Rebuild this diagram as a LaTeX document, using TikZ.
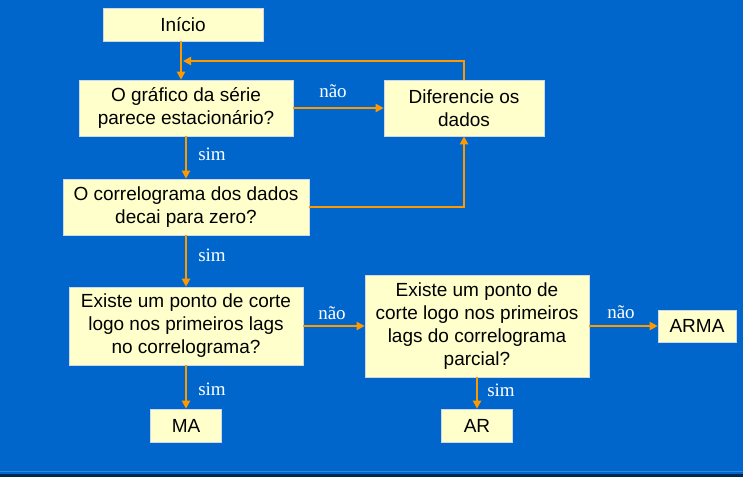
\documentclass[tikz,border=0pt]{standalone}
\usepackage{fontspec}
\setmainfont{Liberation Sans}
\newfontfamily\serifa{Liberation Serif}
\usepackage{xcolor}
\usetikzlibrary{arrows.meta}

\definecolor{fundo}{RGB}{0,102,204}
\definecolor{caixafundo}{RGB}{255,255,204}
\definecolor{laranja}{RGB}{255,153,0}
\definecolor{borda}{RGB}{205,215,230}

\tikzset{
    caixa/.style={draw=borda, line width=0.6pt, fill=caixafundo, inner sep=0pt,
        align=center, font=\fontsize{19}{23}\selectfont},
    seta/.style={laranja, line width=2.2pt, -{Triangle[length=8pt,width=8pt]}},
    rotulo/.style={text=white, inner sep=0pt, font=\serifa\fontsize{19}{23}\selectfont}
}

\begin{document}
\begin{tikzpicture}[x=1pt,y=-1pt]
    % Fundo
    \fill[fundo] (0,0) rectangle (743,477);
    \useasboundingbox (0,0) rectangle (743,477);
    \fill[fundo!80!white] (0,470.5) rectangle (743,471.5);
    \fill[black!60!fundo] (0,474) rectangle (743,477);

    % Caixas
    \node[caixa, minimum width=160, minimum height=33] (inicio) at (183,24.5) {Início};
    \node[caixa, minimum width=214, minimum height=56] (grafico) at (186,108) {O gráfico da série\\parece estacionário?};
    \node[caixa, minimum width=160, minimum height=56] (diferencie) at (464,108) {Diferencie os\\dados};
    \node[caixa, minimum width=246, minimum height=56] (correlograma) at (186,207) {O correlograma dos dados\\decai para zero?};
    \node[caixa, minimum width=234, minimum height=78] (corteacf) at (186,326) {Existe um ponto de corte\\logo nos primeiros lags\\no correlograma?};
    \node[caixa, minimum width=224, minimum height=102] (cortepacf) at (477,326) {Existe um ponto de\\corte logo nos primeiros\\lags do correlograma\\parcial?};
    \node[caixa, minimum width=71, minimum height=33] (ma) at (186,425.5) {MA};
    \node[caixa, minimum width=71, minimum height=33] (ar) at (477,425.5) {AR};
    \node[caixa, minimum width=78, minimum height=32] (arma) at (697,326) {ARMA};

    % Rotulos
    \node[rotulo] (nao1) at (333,91) {não};
    \node[rotulo] (sim1) at (212,154) {sim};
    \node[rotulo] (sim2) at (212,255) {sim};
    \node[rotulo] (nao2) at (332,313) {não};
    \node[rotulo] (sim3) at (212,389) {sim};
    \node[rotulo] (nao3) at (621,312) {não};
    \node[rotulo] (sim4) at (501,390) {sim};

    % Trajetos
    \coordinate (volta) at (183,61);
    \draw[seta] ([xshift=-2pt]inicio.south) -- ([xshift=-2pt]inicio.south |- grafico.north);
    \draw[seta] (diferencie.north) |- (volta);
    \draw[seta] (grafico.east) -- (diferencie.west);
    \draw[seta] (grafico.south) -- (correlograma.north);
    \draw[seta] (correlograma.east) -| (diferencie.south);
    \draw[seta] (correlograma.south) -- (corteacf.north);
    \draw[seta] (corteacf.east) -- (cortepacf.west);
    \draw[seta] (corteacf.south) -- (ma.north);
    \draw[seta] (cortepacf.east) -- (arma.west);
    \draw[seta] (cortepacf.south) -- (ar.north);
\end{tikzpicture}
\end{document}
